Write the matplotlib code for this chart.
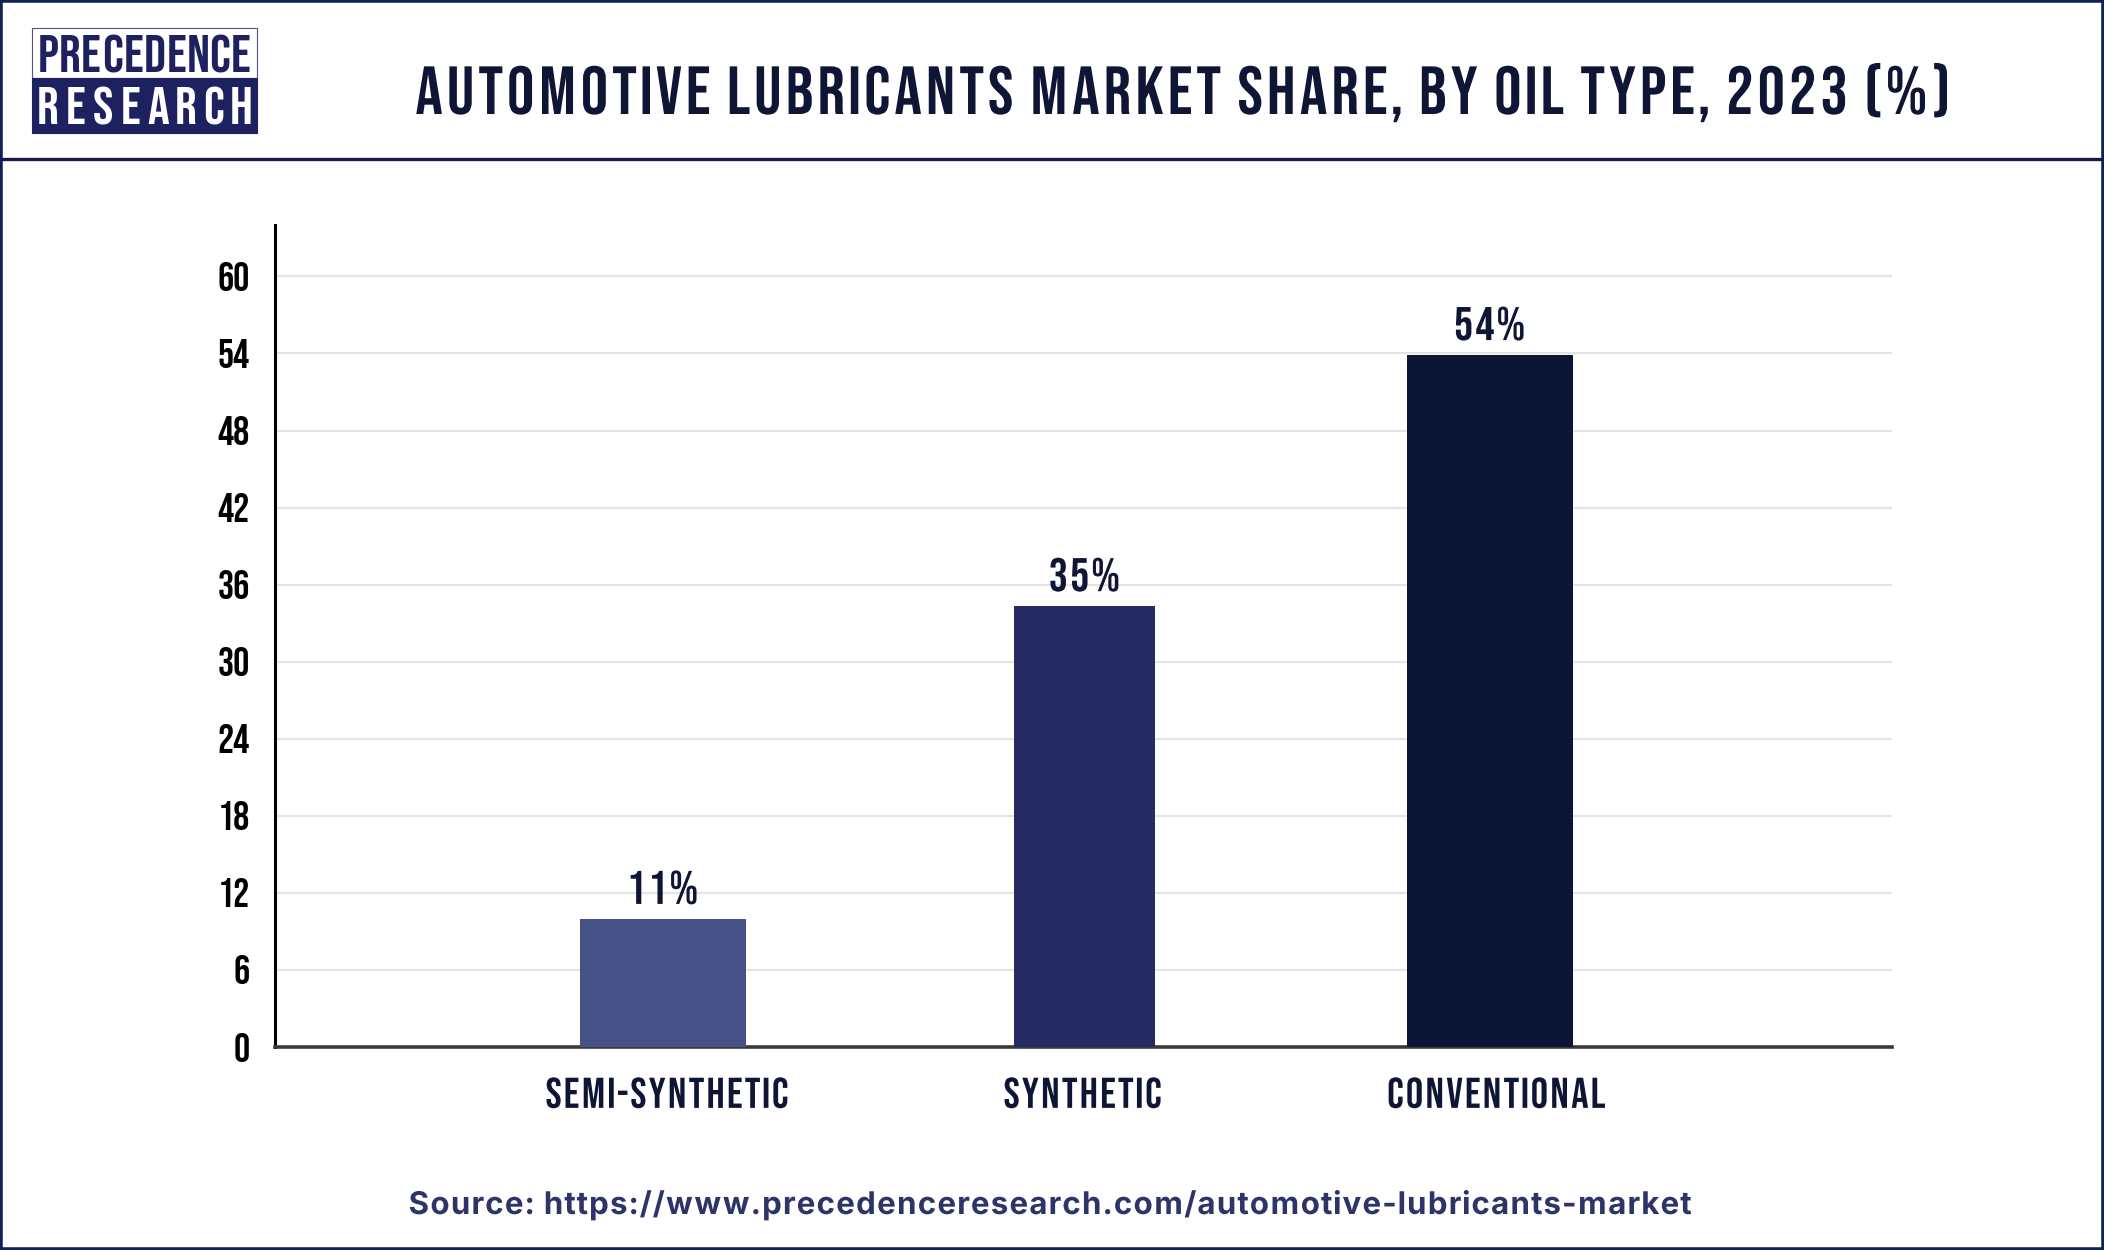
import matplotlib.pyplot as plt
from matplotlib.patches import Rectangle
from matplotlib.lines import Line2D
from matplotlib.path import Path
from matplotlib.patheffects import AbstractPathEffect
import numpy as np

# data
categories = ['SEMI-SYNTHETIC', 'SYNTHETIC', 'CONVENTIONAL']
bar_heights = [9.95, 34.3, 53.85]
value_labels = ['11%', '35%', '54%']
y_ticks = [0, 6, 12, 18, 24, 30, 36, 42, 48, 54, 60]

title = 'AUTOMOTIVE LUBRICANTS MARKET SHARE, BY OIL TYPE, 2023 (%)'
source = 'Source: https://www.precedenceresearch.com/automotive-lubricants-market'

COND = ['Bebas Neue', 'Oswald', 'DejaVu Sans']
SANS = ['Inter', 'DejaVu Sans']

bar_colors = ['#465187', '#252a62', '#0c1536']
bar_widths = [0.40, 0.34, 0.40]
x_pos = np.array([0.0, 1.02, 2.0])
navy = '#0f1535'
logo_navy = '#1e2160'


class Tracking(AbstractPathEffect):
    """Spread glyphs apart (letter spacing) around the text centre."""

    def __init__(self, amount):
        super().__init__()
        self.amount = amount

    def draw_path(self, renderer, gc, tpath, affine, rgbFace=None):
        verts = np.array(tpath.vertices, dtype=float)
        codes = tpath.codes
        if codes is not None and len(verts):
            starts = np.where(codes == Path.MOVETO)[0]
            ends = list(starts[1:]) + [len(verts)]
            mid = (verts[:, 0].min() + verts[:, 0].max()) / 2
            for s, e in zip(starts, ends):
                cx = (verts[s:e, 0].min() + verts[s:e, 0].max()) / 2
                verts[s:e, 0] += self.amount * (cx - mid)
            tpath = Path(verts, codes)
        renderer.draw_path(gc, tpath, affine, rgbFace)


fig = plt.figure(figsize=(21.04, 12.50), dpi=100)
fig.patch.set_facecolor('white')

ax = fig.add_axes([0.1307, 0.1624, 0.7685, 0.6576])
ax.bar(x_pos, bar_heights, width=bar_widths, color=bar_colors, zorder=3)
for x, h, lab in zip(x_pos, bar_heights, value_labels):
    ax.annotate(lab, (x, h), xytext=(0, 11), textcoords='offset points',
                ha='center', va='bottom', fontsize=34, color=navy, family=COND,
                path_effects=[Tracking(0.13)])

ax.set_xlim(-0.938, 2.972)
ax.set_ylim(0, 64)
ax.set_yticks(y_ticks)
ax.set_xticks(x_pos + np.array([0.01, -0.005, 0.015]))
ax.set_xticklabels(categories)
ax.tick_params(axis='both', length=0)
ax.tick_params(axis='y', pad=18, labelsize=29, labelcolor='black')
ax.tick_params(axis='x', pad=21.5, labelsize=31, labelcolor=navy)
for lab in ax.get_yticklabels():
    lab.set_family(COND)
for lab in ax.get_xticklabels():
    lab.set_family(COND)
    lab.set_path_effects([Tracking(0.135)])

ax.yaxis.grid(True, color='#e4e4e4', linewidth=1.6, zorder=0)
ax.set_axisbelow(True)
for s in ['top', 'right']:
    ax.spines[s].set_visible(False)
ax.spines['left'].set_color('black')
ax.spines['left'].set_linewidth(2.2)
ax.spines['bottom'].set_color('#3a3a3a')
ax.spines['bottom'].set_linewidth(2.6)

# header
fig.text(0.5618, 0.926, title, ha='center', va='center', fontsize=49,
         color=navy, family=COND, path_effects=[Tracking(0.155)])
fig.add_artist(Line2D([0, 1], [0.8728, 0.8728], color='#1a1a4a', linewidth=2.4))

# logo
lx0, lx1 = 32 / 2104, 257 / 2104
ly_top, ly_mid, ly_bot = 1 - 28 / 1250, 1 - 78 / 1250, 1 - 133 / 1250
fig.add_artist(Rectangle((lx0, ly_mid), lx1 - lx0, ly_top - ly_mid, facecolor='white',
                         edgecolor='#555577', linewidth=0.8))
fig.add_artist(Rectangle((lx0, ly_bot), lx1 - lx0, ly_mid - ly_bot,
                         facecolor=logo_navy, edgecolor=logo_navy, linewidth=0.8))
for word, yc, col in [('PRECEDENCE', 1 - 54 / 1250, logo_navy), ('RESEARCH', 1 - 106 / 1250, 'white')]:
    xs = np.linspace(48 / 2104, 241 / 2104, len(word))
    for ch, xc in zip(word, xs):
        fig.text(xc, yc, ch, ha='center', va='center', fontsize=39, color=col, family=COND)

# source
fig.text(0.4995, 0.036, source, ha='center', va='center', fontsize=22.5,
         fontweight='bold', color='#2d3468', family=SANS, path_effects=[Tracking(0.068)])

# frame
fig.add_artist(Rectangle((0, 0), 1, 1, facecolor='none', edgecolor='#0e2352',
                         linewidth=4, transform=fig.transFigure))

fig.savefig('out.png', dpi=100)
